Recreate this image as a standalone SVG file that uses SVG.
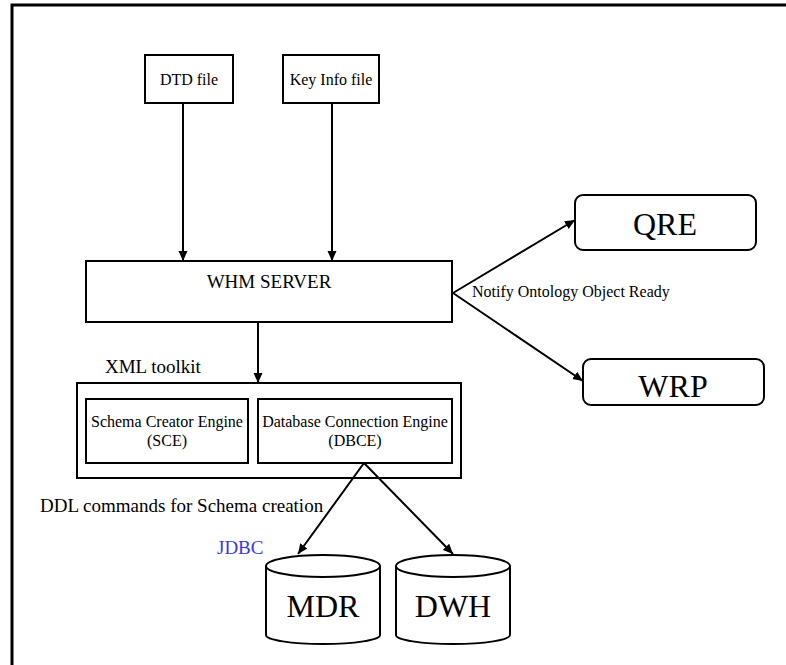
<svg xmlns="http://www.w3.org/2000/svg" width="786" height="665" viewBox="0 0 786 665">
  <style>
    .box { fill: #ffffff; stroke: #000000; stroke-width: 2; }
    .edge { fill: none; stroke: #000000; stroke-width: 2; }
    text { font-family: "Liberation Serif", "Times New Roman", "DejaVu Serif", serif; fill: #000000; }
    .s16 { font-size: 16px; }
    .s19 { font-size: 19px; }
    .big { font-size: 32px; }
    .mid { text-anchor: middle; }
    .blue { fill: #3a3ae0; }
  </style>
  <defs>
    <marker id="arrow" viewBox="0 0 10 10" refX="10" refY="5" markerWidth="10" markerHeight="10" markerUnits="userSpaceOnUse" orient="auto">
      <path d="M0,0.5 L10,5 L0,9.5 Z" fill="#000000"/>
    </marker>
  </defs>

  <rect width="786" height="665" fill="#ffffff"/>

  <!-- page frame (open to the right and bottom) -->
  <path d="M786,5 H12 V665" fill="none" stroke="#000000" stroke-width="3"/>

  <g id="dtd-file">
    <rect class="box" x="145" y="55" width="88" height="48"/>
    <text class="s16 mid" x="189" y="85">DTD file</text>
  </g>

  <g id="key-info-file">
    <rect class="box" x="283" y="55" width="96" height="48"/>
    <text class="s16 mid" x="331" y="85">Key Info file</text>
  </g>

  <g id="whm-server">
    <rect class="box" x="86" y="261" width="366" height="61"/>
    <text class="s19 mid" x="269" y="288">WHM SERVER</text>
  </g>

  <g id="qre">
    <rect class="box" x="575" y="195" width="181" height="55" rx="8"/>
    <text class="big mid" x="665" y="235">QRE</text>
  </g>

  <g id="wrp">
    <rect class="box" x="583" y="359" width="181" height="46" rx="8"/>
    <text class="big mid" x="673" y="397">WRP</text>
  </g>

  <g id="xml-toolkit">
    <text class="s19" x="105" y="373">XML toolkit</text>
    <rect class="box" x="77" y="383" width="384" height="95"/>
  </g>

  <g id="sce">
    <rect class="box" x="86" y="399" width="162" height="64"/>
    <text class="s16 mid" x="167" y="427">Schema Creator Engine</text>
    <text class="s16 mid" x="167" y="446">(SCE)</text>
  </g>

  <g id="dbce">
    <rect class="box" x="258" y="399" width="194" height="64"/>
    <text class="s16 mid" x="355" y="427">Database Connection Engine</text>
    <text class="s16 mid" x="355" y="446">(DBCE)</text>
  </g>

  <g id="mdr">
    <path class="box" d="M266,566 V635 A57,9 0 0 0 380,635 V566"/>
    <ellipse class="box" cx="323" cy="566" rx="57" ry="11"/>
    <text class="big mid" x="323" y="617">MDR</text>
  </g>

  <g id="dwh">
    <path class="box" d="M396,566 V635 A57,9 0 0 0 510,635 V566"/>
    <ellipse class="box" cx="453" cy="566" rx="57" ry="11"/>
    <text class="big mid" x="453" y="617">DWH</text>
  </g>

  <g id="connectors">
    <line class="edge" x1="183" y1="103" x2="183" y2="261" marker-end="url(#arrow)"/>
    <line class="edge" x1="332" y1="103" x2="332" y2="261" marker-end="url(#arrow)"/>
    <line class="edge" x1="258" y1="322" x2="258" y2="383" marker-end="url(#arrow)"/>
    <line class="edge" x1="453" y1="293" x2="575" y2="220" marker-end="url(#arrow)"/>
    <line class="edge" x1="453" y1="293" x2="583" y2="381" marker-end="url(#arrow)"/>
    <line class="edge" x1="364" y1="463" x2="298" y2="554" marker-end="url(#arrow)"/>
    <line class="edge" x1="364" y1="463" x2="453" y2="554" marker-end="url(#arrow)"/>
    <text class="s16" x="472" y="297">Notify Ontology Object Ready</text>
    <text class="s19" x="40" y="512">DDL commands for Schema creation</text>
    <text class="s19 blue" x="217" y="554">JDBC</text>
  </g>
</svg>
